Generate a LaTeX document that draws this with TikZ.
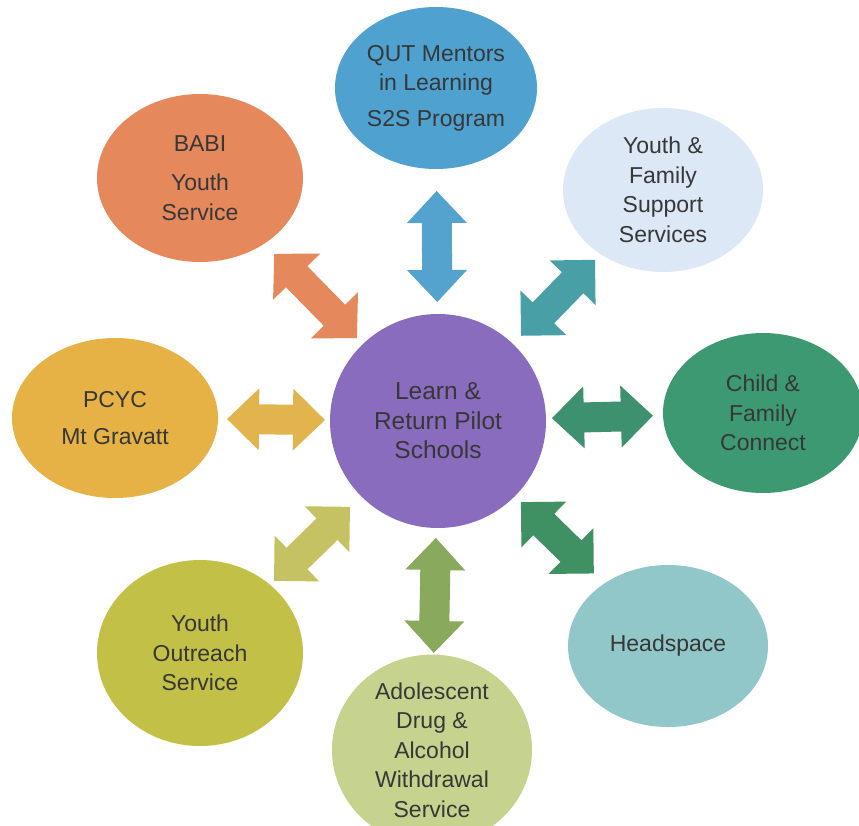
\documentclass[tikz,border=0pt]{standalone}
\usepackage{fontspec}
\setmainfont{Liberation Sans}
\usetikzlibrary{shapes.geometric,calc}
\definecolor{txt}{RGB}{55,55,55}
\definecolor{qutc}{RGB}{79,161,208}
\definecolor{babic}{RGB}{229,137,92}
\definecolor{yfsc}{RGB}{220,232,246}
\definecolor{pcycc}{RGB}{230,178,70}
\definecolor{cfcc}{RGB}{60,153,114}
\definecolor{yosc}{RGB}{195,192,72}
\definecolor{adolc}{RGB}{198,211,142}
\definecolor{headc}{RGB}{145,199,200}
\definecolor{centc}{RGB}{137,108,189}
\definecolor{qutA}{RGB}{84,163,206}
\definecolor{babiA}{RGB}{229,137,92}
\definecolor{yfsA}{RGB}{72,159,165}
\definecolor{pcycA}{RGB}{226,180,78}
\definecolor{cfcA}{RGB}{62,145,110}
\definecolor{yosA}{RGB}{196,194,98}
\definecolor{adolA}{RGB}{137,170,92}
\definecolor{headA}{RGB}{63,145,100}
\tikzset{
  blob/.style={ellipse, inner sep=0pt, align=center, text=txt,
    font=\fontsize{23}{29.5}\selectfont},
}
% #1 colour, #2 from node, #3 to node, #4 near distance, #5 far distance, #6 head half width
\newcommand\blockarrow[6]{%
  \coordinate (A) at ($(#2)!#4!(#3)$);
  \coordinate (B) at ($(#2)!#5!(#3)$);
  \fill[#1] (A)
    -- ($(A)!32pt!(B)!#6!90:(B)$)
    -- ($(A)!32pt!(B)!15pt!90:(B)$)
    -- ($(B)!32pt!(A)!15pt!-90:(A)$)
    -- ($(B)!32pt!(A)!#6!-90:(A)$)
    -- (B)
    -- ($(B)!32pt!(A)!#6!90:(A)$)
    -- ($(B)!32pt!(A)!15pt!90:(A)$)
    -- ($(A)!32pt!(B)!15pt!-90:(B)$)
    -- ($(A)!32pt!(B)!#6!-90:(B)$)
    -- cycle;
}
\begin{document}
\begin{tikzpicture}[x=1pt,y=-1pt]
\fill[white] (0,0) rectangle (859,825);
\useasboundingbox (0,0) rectangle (859,825);

\node[blob, fill=centc, minimum width=216pt, minimum height=214pt,
  font=\fontsize{24.5}{29.5}\selectfont] (c) at (438,421)
  {Learn \&\\Return Pilot\\Schools};
\node[blob, fill=qutc, minimum width=202pt, minimum height=162pt] (qut) at (436,88)
  {QUT Mentors\\in Learning\\[6pt]S2S Program};
\node[blob, fill=babic, minimum width=206pt, minimum height=168pt] (babi) at (200,178)
  {BABI\\[10pt]Youth\\Service};
\node[blob, fill=yfsc, minimum width=200pt, minimum height=164pt] (yfs) at (663,190)
  {Youth \&\\Family\\Support\\Services};
\node[blob, fill=pcycc, minimum width=206pt, minimum height=160pt] (pcyc) at (115,418)
  {PCYC\\[7pt]Mt Gravatt};
\node[blob, fill=cfcc, minimum width=200pt, minimum height=160pt] (cfc) at (763,413)
  {Child \&\\Family\\Connect};
\node[blob, fill=yosc, minimum width=206pt, minimum height=186pt] (yos) at (200,653)
  {Youth\\Outreach\\Service};
\node[blob, fill=adolc, minimum width=200pt, minimum height=170pt] (adol) at (432,750)
  {Adolescent\\Drug \&\\Alcohol\\Withdrawal\\Service};
\node[blob, fill=headc, minimum width=200pt, minimum height=162pt] (head) at (668,646)
  {Headspace};

\blockarrow{qutA}{c}{qut}{119pt}{230pt}{30pt}
\blockarrow{babiA}{c}{babi}{116pt}{234pt}{33pt}
\blockarrow{yfsA}{c}{yfs}{119pt}{225pt}{32pt}
\blockarrow{pcycA}{c}{pcyc}{113pt}{211pt}{31pt}
\blockarrow{cfcA}{c}{cfc}{114pt}{215pt}{31pt}
\blockarrow{yosA}{c}{yos}{123pt}{229pt}{32pt}
\blockarrow{adolA}{c}{adol}{117pt}{232pt}{30pt}
\blockarrow{headA}{c}{head}{116pt}{218pt}{32pt}
\end{tikzpicture}
\end{document}
